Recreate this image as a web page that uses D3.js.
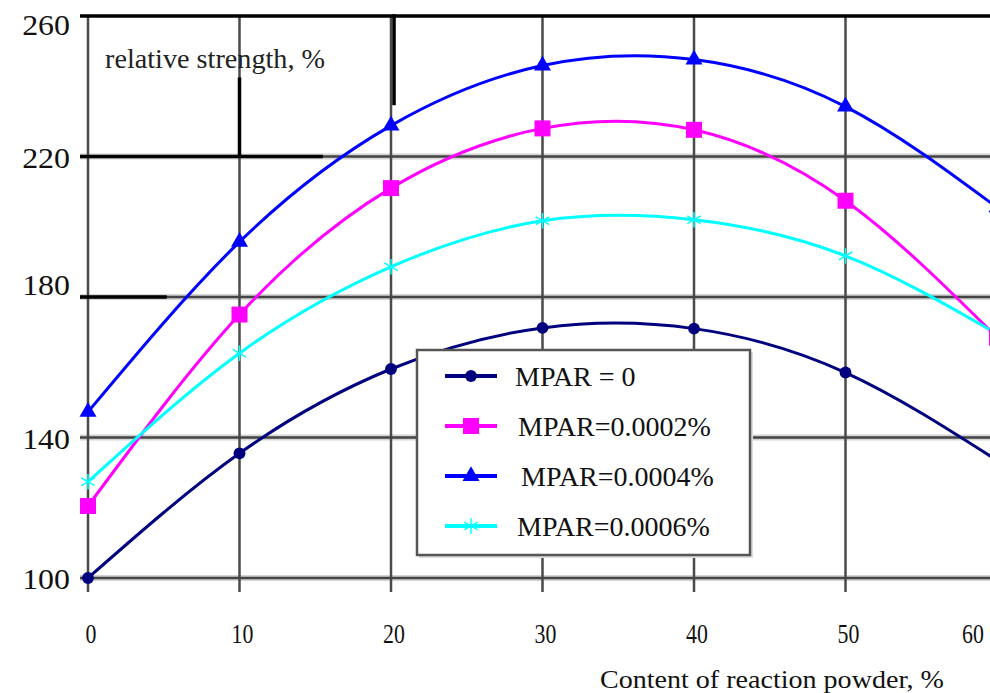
<!DOCTYPE html>
<html>
<head>
<meta charset="utf-8">
<script src="https://cdn.jsdelivr.net/npm/d3@7"></script>
<style>
    body { margin: 0; background: #fff; }
</style>
</head>
<body>
<div id="chart"></div>
<script>
// values
var powder = [0, 10, 20, 30, 40, 50, 60];
var mpar0 = [100, 135.5, 159.5, 171.2, 171, 158.5, 133.5];
var mpar0002 = [120.5, 175, 211, 228, 227.6, 207.4, 168.5];
var mpar0004 = [147.3, 195.7, 228.8, 245.9, 247.6, 234.2, 205.5];
var mpar0006 = [127.4, 164, 188.6, 201.7, 202, 191.7, 169.5];
var yTicks = [100, 140, 180, 220, 260];
var seriesNames = ["MPAR = 0", "MPAR=0.0002%", "MPAR=0.0004%", "MPAR=0.0006%"];

var width = 990,
    height = 693;
var serif = "'Liberation Serif', 'Times New Roman', 'DejaVu Serif', serif";

var svg = d3.select("#chart").append("svg")
    .attr("width", width)
    .attr("height", height)
    .attr("font-family", serif)
    .style("font-family", serif);

var x = d3.scaleLinear().domain([0, 60]).range([88, 997]);
var y = d3.scaleLinear().domain([100, 260]).range([578, 16]);

var series = [
    { name: seriesNames[0], values: mpar0, color: "#00007f", symbol: d3.symbolCircle, size: 110 },
    { name: seriesNames[1], values: mpar0002, color: "#ff00ff", symbol: d3.symbolSquare, size: 256 },
    { name: seriesNames[2], values: mpar0004, color: "#0000ff", symbol: d3.symbolTriangle, size: 125 },
    { name: seriesNames[3], values: mpar0006, color: "#00ffff", symbol: d3.symbolAsterisk, size: 170 }
];

// grid
var grid = svg.append("g");

// soft halo under horizontal lines
grid.selectAll(".hhalo")
    .data(yTicks.slice(0, 4))
    .enter().append("line")
    .attr("x1", 80).attr("x2", width)
    .attr("y1", function(d) { return y(d); })
    .attr("y2", function(d) { return y(d); })
    .attr("stroke", "#d4d4d4")
    .attr("stroke-width", 6);

grid.selectAll(".vline")
    .data(powder)
    .enter().append("line")
    .attr("x1", function(d) { return x(d); })
    .attr("x2", function(d) { return x(d); })
    .attr("y1", y(260))
    .attr("y2", 592)
    .attr("stroke", "#4a4a4a")
    .attr("stroke-width", 2.5);

grid.selectAll(".hline")
    .data(yTicks.slice(0, 4))
    .enter().append("line")
    .attr("x1", 80).attr("x2", width)
    .attr("y1", function(d) { return y(d); })
    .attr("y2", function(d) { return y(d); })
    .attr("stroke", "#444")
    .attr("stroke-width", 2.5);

// top border line at 260
grid.append("line")
    .attr("x1", 80).attr("x2", width)
    .attr("y1", y(260)).attr("y2", y(260))
    .attr("stroke", "#000")
    .attr("stroke-width", 3.5);

// darker overdrawn strokes seen in the scan
var darkH = [[220, 0, 15.5], [180, 0, 5.2]];
var darkV = [[10, 220, 242.5], [20.2, 234.6, 260.5]];
grid.selectAll(".darkh")
    .data(darkH)
    .enter().append("line")
    .attr("x1", 80)
    .attr("x2", function(d) { return x(d[2]); })
    .attr("y1", function(d) { return y(d[0]); })
    .attr("y2", function(d) { return y(d[0]); })
    .attr("stroke", "#000")
    .attr("stroke-width", 3.5);
grid.selectAll(".darkv")
    .data(darkV)
    .enter().append("line")
    .attr("x1", function(d) { return x(d[0]); })
    .attr("x2", function(d) { return x(d[0]); })
    .attr("y1", function(d) { return y(d[1]); })
    .attr("y2", function(d) { return y(d[2]); })
    .attr("stroke", "#000")
    .attr("stroke-width", 3.5);

// tick labels (the scan has 260 pushed down and 180 lifted up)
function yLabelPos(d) {
    if (d === 260) return y(d) + 9;
    if (d === 180) return y(d) - 12;
    return y(d) + 1;
}

svg.selectAll(".ylab")
    .data(yTicks)
    .enter().append("text")
    .attr("x", 70)
    .attr("y", yLabelPos)
    .attr("dy", "0.35em")
    .attr("text-anchor", "end")
    .attr("font-size", 29)
    .attr("fill", "#111")
    .attr("transform", "translate(70,0) scale(1.1,1) translate(-70,0)")
    .text(function(d) { return d; });

function xLabelPos(d) { return Math.min(x(d) + 3, 973); }

svg.selectAll(".xlab")
    .data(powder)
    .enter().append("text")
    .attr("x", xLabelPos)
    .attr("y", 633)
    .attr("dy", "0.35em")
    .attr("text-anchor", "middle")
    .attr("font-size", 28)
    .attr("fill", "#111")
    .attr("transform", function(d) { return "translate(" + xLabelPos(d) + ",0) scale(0.78,1) translate(" + (-xLabelPos(d)) + ",0)"; })
    .text(function(d) { return d; });

svg.append("text")
    .attr("x", 105)
    .attr("y", 68)
    .attr("font-size", 27)
    .attr("fill", "#222")
    .attr("textLength", 220)
    .attr("lengthAdjust", "spacingAndGlyphs")
    .text("relative strength, %");

svg.append("text")
    .attr("x", 600)
    .attr("y", 688)
    .attr("font-size", 26)
    .attr("fill", "#111")
    .attr("textLength", 344)
    .attr("lengthAdjust", "spacingAndGlyphs")
    .text("Content of reaction powder, %");

// curves
var line = d3.line()
    .x(function(d, i) { return x(powder[i]); })
    .y(function(d) { return y(d); })
    .curve(d3.curveNatural);

var plot = svg.append("g");

series.forEach(function(s) {
    plot.append("path")
        .datum(s.values)
        .attr("fill", "none")
        .attr("stroke", s.color)
        .attr("stroke-width", 3)
        .attr("d", line);
});

series.forEach(function(s) {
    var sym = d3.symbol().type(s.symbol).size(s.size);
    plot.selectAll(null)
        .data(s.values)
        .enter().append("path")
        .attr("d", sym)
        .attr("transform", function(d, i) { return "translate(" + x(powder[i]) + "," + y(d) + ")"; })
        .attr("fill", s.symbol === d3.symbolAsterisk ? "none" : s.color)
        .attr("stroke", s.color)
        .attr("stroke-width", s.symbol === d3.symbolAsterisk ? 1.5 : 0);
});

// legend
var legend = svg.append("g");

legend.append("rect")
    .attr("x", 419).attr("y", 352)
    .attr("width", 334).attr("height", 206)
    .attr("fill", "#ddd");

legend.append("rect")
    .attr("x", 417).attr("y", 350)
    .attr("width", 333).attr("height", 205)
    .attr("fill", "#fff")
    .attr("stroke", "#555")
    .attr("stroke-width", 2.5);

var legendY = d3.scalePoint().domain(seriesNames).range([376, 526]);
var legendX = [515, 518, 521, 517];

series.forEach(function(s, i) {
    var ly = legendY(s.name);
    legend.append("line")
        .attr("x1", 445).attr("x2", 497)
        .attr("y1", ly).attr("y2", ly)
        .attr("stroke", s.color)
        .attr("stroke-width", 4);
    legend.append("path")
        .attr("d", d3.symbol().type(s.symbol).size(s.size)())
        .attr("transform", "translate(471," + ly + ")")
        .attr("fill", s.symbol === d3.symbolAsterisk ? "none" : s.color)
        .attr("stroke", s.color)
        .attr("stroke-width", s.symbol === d3.symbolAsterisk ? 1.5 : 0);
    legend.append("text")
        .attr("x", legendX[i])
        .attr("y", ly)
        .attr("dy", "0.35em")
        .attr("font-size", 28)
        .attr("fill", "#111")
        .text(s.name);
});
</script>
</body>
</html>
